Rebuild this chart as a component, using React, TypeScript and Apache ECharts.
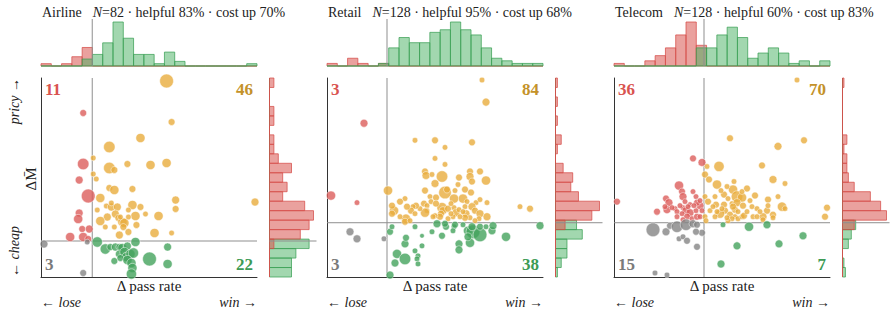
import { useEffect, useRef } from "react";
import * as echarts from "echarts";

// Each task: [Δ pass rate (pp), ΔM̄ (cost change), n runs]
type Pt = [number, number, number];

const airlinePoints: Pt[] = [
  [-0.9, 12.8, 9], [-0.9, 7.7, 25], [-1.3, 6.1, 12], [-0.4, 4.5, 36], [-1.3, 2.8, 12], [-1.4, 2.2, 16],
  [-1.0, 1.2, 9], [-0.3, 1.2, 12], [-2.2, 0.4, 16], [-0.9, 0.4, 16], [-0.4, 0.2, 9],
  [-4.8, -0.3, 12], [-0.5, -0.1, 6], [-0.9, -3.2, 9],
  [0.5, -0.1, 20], [1.3, -0.8, 20], [1.8, -0.6, 9], [2.3, -0.6, 12], [2.7, -0.6, 9], [3.0, -0.7, 16],
  [3.5, -0.5, 12], [4.3, -0.1, 16], [2.7, -1.3, 12], [3.2, -1.1, 16], [3.4, -1.6, 16], [3.8, -1.3, 16],
  [4.1, -1.2, 20], [2.2, -2.0, 9], [2.8, -1.7, 9], [3.5, -1.9, 16], [3.9, -2.2, 16], [4.0, -2.7, 16],
  [3.9, -3.3, 20], [5.7, -1.8, 36], [7.5, -0.6, 12], [7.5, -2.3, 16],
  [7.4, 16.0, 36], [7.9, 11.9, 9], [4.8, 10.3, 16], [1.7, 9.4, 25], [7.4, 7.8, 16], [5.8, 7.6, 16],
  [3.5, 7.7, 9], [0.1, 8.3, 6], [1.7, 7.3, 25], [2.2, 7.1, 9], [0.1, 6.7, 6], [0.4, 6.2, 6],
  [1.7, 5.3, 9], [2.2, 5.1, 16], [4.0, 5.2, 9], [0.8, 4.3, 16], [8.3, 4.1, 12], [16.2, 3.9, 12],
  [1.4, 3.5, 6], [1.9, 3.4, 12], [2.5, 3.4, 12], [4.0, 3.6, 16], [4.8, 3.4, 9], [3.6, 3.1, 6],
  [1.5, 2.4, 12], [2.3, 2.7, 12], [2.6, 2.3, 9], [4.3, 2.5, 16], [6.6, 2.5, 16], [5.3, 2.7, 6],
  [8.3, 3.2, 9], [0.8, 2.0, 16], [3.0, 1.9, 16], [3.2, 1.8, 16], [4.4, 1.6, 9], [1.3, 1.4, 6],
  [2.2, 1.4, 6], [3.1, 1.4, 9], [3.6, 0.9, 9], [2.7, 0.6, 12], [6.2, 0.8, 16], [7.9, 0.8, 6],
  [1.9, 3.8, 6], [0.5, 3.1, 6], [2.8, 2.4, 6], [3.6, 2.4, 6],
];

const retailPoints: Pt[] = [
  [-2.3, 9.9, 12], [-5.6, 2.7, 16], [-3.0, 2.0, 6],
  [-3.7, -0.9, 12], [-3.0, -1.6, 12], [-0.3, -1.6, 6],
  [0.3, -5.2, 12], [0.8, -4.0, 12], [1.0, -3.1, 16], [1.8, -3.6, 25], [1.8, -2.1, 12], [1.9, -1.5, 9],
  [2.8, -2.8, 6], [3.1, -3.3, 6], [3.0, -3.6, 6], [3.1, -4.1, 6], [3.5, -2.3, 6], [3.5, -1.3, 4],
  [2.8, -0.4, 6], [0.3, -0.9, 9], [0.5, -0.4, 6], [4.5, -0.9, 6], [5.0, -0.1, 12], [5.5, -1.3, 9],
  [5.9, -0.4, 9], [6.7, -0.4, 6], [6.6, -0.8, 6], [7.2, -2.1, 12], [7.2, -2.7, 12], [8.3, -2.0, 16],
  [8.1, -0.8, 16], [8.6, -0.9, 36], [9.3, -1.2, 36], [8.5, -0.4, 12], [9.3, -0.4, 9], [10.5, -0.8, 12],
  [10.6, -0.3, 12], [11.9, -1.4, 16], [15.3, -0.3, 12], [6.8, -0.2, 9], [5.8, -0.1, 9], [7.6, -0.2, 6],
  [9.9, -0.4, 6], [8.1, -1.4, 12],
  [9.5, 14.2, 6], [9.9, 12.0, 12], [2.8, 8.2, 6], [4.8, 8.2, 9], [8.5, 8.0, 9], [5.8, 7.5, 6],
  [4.8, 6.4, 6], [5.8, 5.8, 6], [0.1, 3.2, 16],
  [3.8, 5.1, 9], [3.9, 4.7, 12], [4.5, 4.8, 6], [5.5, 4.6, 25], [4.8, 3.9, 12], [7.2, 4.5, 9],
  [8.3, 5.1, 9], [8.3, 4.6, 12], [9.3, 5.1, 9], [9.9, 4.2, 16], [8.5, 4.1, 9], [7.1, 3.8, 6],
  [7.8, 3.3, 9], [5.8, 3.0, 30], [6.0, 3.3, 9], [3.8, 3.2, 9], [4.3, 2.6, 6], [4.9, 2.5, 9],
  [4.4, 2.1, 6], [6.8, 3.2, 6], [6.7, 2.4, 16], [7.6, 2.4, 16], [8.4, 3.0, 9], [8.0, 2.1, 6],
  [8.9, 2.0, 6], [9.3, 2.3, 6], [10.0, 2.0, 6], [3.7, 1.9, 9], [4.0, 1.7, 6], [4.0, 1.2, 6],
  [3.8, 1.0, 16], [5.5, 1.5, 20], [5.6, 1.2, 12], [6.1, 1.4, 9], [5.4, 0.9, 9], [6.7, 1.5, 6],
  [6.9, 1.0, 12], [7.2, 1.3, 6], [7.8, 1.6, 6], [7.9, 0.9, 12], [8.5, 1.6, 12], [8.8, 1.2, 9],
  [9.3, 0.9, 12], [10.0, 0.6, 12], [9.2, 0.4, 6], [8.3, 0.5, 6], [7.8, 0.5, 9], [7.3, 0.6, 6],
  [6.6, 0.6, 6], [6.1, 0.4, 6], [5.3, 0.6, 9], [4.8, 0.7, 6], [4.6, 0.6, 6], [3.3, 1.4, 6],
  [2.9, 1.7, 9], [2.6, 1.6, 6], [2.4, 1.2, 9], [2.0, 1.6, 9], [1.8, 2.4, 6], [1.3, 2.1, 9],
  [0.7, 1.2, 16], [0.5, 1.7, 9], [0.5, 0.9, 9], [1.9, 0.4, 16], [1.8, 0.1, 9], [1.3, 0.6, 6],
  [13.3, 1.6, 6], [14.3, 1.4, 9], [2.3, 0.2, 6], [8.8, 0.2, 6], [6.4, 0.9, 6], [2.8, 0.9, 6],
  [4.9, 1.9, 9], [6.4, 1.9, 6], [7.6, 1.1, 6],
];

const telecomPoints: Pt[] = [
  [-8.7, 2.1, 9], [-4.7, 1.1, 9], [-3.8, 2.4, 9], [-3.5, 2.0, 12], [-3.7, 1.3, 12], [-2.5, 3.7, 16],
  [-2.2, 3.1, 9], [-2.1, 2.6, 12], [-1.9, 2.1, 6], [-2.1, 1.5, 6], [-1.8, 1.2, 12], [-1.4, 1.0, 12],
  [-1.1, 6.4, 9], [-1.1, 3.1, 6], [-0.8, 2.6, 6], [-0.4, 1.7, 12], [-0.2, 6.0, 12], [-1.4, 1.8, 6],
  [-0.7, 2.0, 9], [-0.4, 2.2, 6], [-2.4, 1.7, 6], [-2.9, 1.4, 6], [-1.7, 0.6, 9], [-1.2, 0.4, 6],
  [-0.7, 0.6, 9], [-0.4, 0.6, 6], [-0.8, 1.2, 6], [-1.6, 1.6, 6], [-2.2, 0.9, 6], [-2.7, 1.1, 6],
  [-3.2, 1.5, 6], [-3.9, 1.6, 6], [-2.1, 0.3, 6], [-2.7, 0.6, 6], [-1.0, 1.7, 6], [-0.2, 1.2, 6],
  [-5.1, -0.7, 36], [-3.8, -0.9, 12], [-3.4, -0.3, 9], [-2.7, -0.4, 25], [-1.8, -0.2, 25], [-1.1, -0.1, 12],
  [-0.7, -0.2, 9], [-0.2, -1.0, 9], [-0.8, -0.9, 9], [-2.5, -1.6, 6], [-2.1, -1.4, 6], [-1.7, -1.8, 9],
  [-0.7, -2.4, 9], [-4.9, -5.0, 6], [-3.7, -5.2, 6],
  [1.9, -0.2, 6], [4.5, -0.4, 16], [6.3, -0.2, 12], [3.3, -2.3, 12], [7.5, -2.1, 12], [9.9, -1.3, 12],
  [1.7, -4.1, 12],
  [9.3, 14.2, 6], [2.6, 8.4, 9], [7.4, 7.6, 12], [10.0, 8.2, 9], [5.8, 5.7, 9], [1.5, 5.6, 20],
  [0.3, 5.6, 6], [0.1, 4.8, 9], [0.5, 4.3, 9], [1.3, 3.8, 16], [3.0, 4.1, 6], [6.9, 4.3, 12],
  [8.1, 3.9, 6], [2.9, 3.3, 16], [2.0, 2.8, 9], [3.3, 2.6, 25], [3.8, 2.5, 16], [4.3, 3.4, 9],
  [5.1, 2.7, 9], [6.4, 2.3, 9], [7.4, 2.6, 6], [7.8, 1.6, 16], [12.3, 1.5, 9], [12.1, 0.6, 9],
  [6.3, 1.2, 9], [5.9, 0.6, 12], [6.9, 0.8, 9], [5.9, 0.3, 6], [0.1, 2.6, 6], [0.4, 2.1, 9],
  [1.2, 1.8, 9], [2.0, 1.8, 9], [2.4, 2.4, 6], [2.1, 1.2, 9], [1.6, 0.9, 16], [2.6, 0.8, 9],
  [3.1, 1.3, 9], [3.1, 0.6, 6], [3.4, 0.4, 6], [3.8, 0.6, 6], [4.0, 0.7, 9], [2.8, 0.4, 6],
  [1.1, 0.6, 6], [0.6, 1.2, 6], [0.1, 0.6, 6], [0.2, 0.2, 6], [2.8, 1.9, 6], [3.3, 2.0, 12],
  [3.9, 1.7, 9], [4.8, 1.6, 6], [5.3, 1.4, 6], [4.3, 1.1, 6], [4.9, 0.6, 6], [5.6, 1.1, 6],
  [6.9, 0.5, 6], [2.4, 0.2, 6], [1.8, 1.4, 6], [1.3, 1.1, 6], [0.9, 1.6, 6], [3.8, 3.1, 6],
  [4.6, 2.2, 6], [1.7, 3.2, 6], [1.1, 2.6, 6], [2.3, 3.6, 6], [5.3, 0.6, 6], [3.4, 1.1, 6],
  [6.4, 1.7, 6], [2.9, 1.6, 9], [2.3, 0.5, 6], [8.1, 1.4, 6],
];

// Marginal histograms, 21 bins over each axis range.
// Top: Δ pass rate, left to right (lose / win). Side: ΔM̄, bottom to top (cheaper / pricier).
const airlineTopLose = [1, 0, 1, 4, 8, 0, 0, 0, 0, 0, 0, 0, 0, 0, 0, 0, 0, 0, 0, 0, 0];
const airlineTopWin = [0, 0, 0, 0, 3, 5, 10, 19, 12, 5, 5, 1, 6, 2, 0, 0, 0, 0, 0, 0, 1];
const airlineSideUp = [0, 0, 0, 1, 7, 9, 10, 8, 3, 4, 3, 5, 2, 1, 1, 0, 1, 1, 0, 0, 1];
const airlineSideDown = [5, 5, 6, 9, 0, 0, 0, 0, 0, 0, 0, 0, 0, 0, 0, 0, 0, 0, 0, 0, 0];

const retailTopLose = [1, 0, 3, 1, 0, 1, 0, 0, 0, 0, 0, 0, 0, 0, 0, 0, 0, 0, 0, 0, 0];
const retailTopWin = [0, 0, 0, 0, 0, 1, 7, 11, 9, 9, 13, 14, 17, 14, 12, 7, 3, 2, 1, 1, 1];
const retailSideUp = [0, 0, 0, 0, 0, 5, 19, 23, 12, 8, 9, 4, 0, 1, 3, 0, 1, 0, 1, 0, 1];
const retailSideDown = [1, 3, 6, 6, 14, 11, 0, 0, 0, 0, 0, 0, 0, 0, 0, 0, 0, 0, 0, 0, 0];

const telecomTopLose = [1, 0, 0, 2, 4, 7, 12, 17, 8, 0, 0, 0, 0, 0, 0, 0, 0, 0, 0, 0, 0];
const telecomTopWin = [0, 0, 0, 0, 0, 0, 0, 0, 7, 7, 12, 15, 11, 3, 5, 7, 5, 1, 2, 0, 2];
const telecomSideUp = [0, 0, 0, 0, 0, 8, 30, 26, 19, 8, 4, 3, 3, 1, 3, 0, 0, 0, 0, 0, 1];
const telecomSideDown = [2, 1, 0, 4, 6, 9, 0, 0, 0, 0, 0, 0, 0, 0, 0, 0, 0, 0, 0, 0, 0];

const domains = ["Airline", "Retail", "Telecom"];
const xRanges: [number, number][] = [[-5.1, 16.4], [-6.0, 15.6], [-9.0, 12.6]];
const yRanges: [number, number][] = [[-3.6, 16.3], [-5.4, 14.4], [-5.4, 14.4]];

const PANELS = [
  { name: domains[0], pts: airlinePoints, xr: xRanges[0], yr: yRanges[0], topLose: airlineTopLose, topWin: airlineTopWin, sideUp: airlineSideUp, sideDown: airlineSideDown },
  { name: domains[1], pts: retailPoints, xr: xRanges[1], yr: yRanges[1], topLose: retailTopLose, topWin: retailTopWin, sideUp: retailSideUp, sideDown: retailSideDown },
  { name: domains[2], pts: telecomPoints, xr: xRanges[2], yr: yRanges[2], topLose: telecomTopLose, topWin: telecomTopWin, sideUp: telecomSideUp, sideDown: telecomSideDown },
];

// Layout (px)
const LEFTS = [41, 327, 614];
const PLOT_TOP = 78;
const PLOT_W = 216;
const PLOT_H = 199;
const TOP_HIST_TOP = 19;
const TOP_HIST_H = 47;
const SIDE_GAP = 12.5;
const SIDE_W = 47;
const BAR_FRAC = 44 / 47;
const BUBBLE_SCALE = 2.3;

const FONT = "'Liberation Serif', 'DejaVu Serif', 'Times New Roman', serif";
const ZERO_LINE = "#8f8f8f";
const SPINE = "#333";

const QUAD = {
  losePricy: { fill: "#dc5e5b", label: "#d9534f" },
  winPricy: { fill: "#e9ad3d", label: "#c4922a" },
  loseCheap: { fill: "#858585", label: "#7a7a7a" },
  winCheap: { fill: "#44a35d", label: "#3d9b55" },
};
const HIST_RED = { fill: "rgba(217,83,79,0.55)", stroke: "rgba(214,78,74,0.75)" };
const HIST_GREEN = { fill: "rgba(70,175,95,0.5)", stroke: "rgba(60,160,85,0.75)" };

function histSeries(axis: number, counts: number[], lo: number, hi: number, side: boolean, col: { fill: string; stroke: string }) {
  const w = (hi - lo) / counts.length;
  return {
    type: "custom",
    xAxisIndex: axis,
    yAxisIndex: axis,
    silent: true,
    z: 2,
    data: counts.map((c, k) => [lo + k * w, lo + (k + 1) * w, c]),
    renderItem: (_p: any, api: any) => {
      const a = api.value(0);
      const b = api.value(1);
      const c = api.value(2);
      const p0 = side ? api.coord([0, a]) : api.coord([a, 0]);
      const p1 = side ? api.coord([c, b]) : api.coord([b, c]);
      return {
        type: "rect",
        shape: {
          x: Math.min(p0[0], p1[0]),
          y: Math.min(p0[1], p1[1]),
          width: Math.abs(p1[0] - p0[0]),
          height: Math.abs(p1[1] - p0[1]),
        },
        style: { fill: col.fill, stroke: col.stroke, lineWidth: 1 },
      };
    },
  };
}

function zeroLine(axis: number, data: number[][]) {
  return {
    type: "line",
    xAxisIndex: axis,
    yAxisIndex: axis,
    data,
    symbol: "none",
    silent: true,
    z: 3,
    lineStyle: { color: ZERO_LINE, width: 1 },
  };
}

function text(x: number, y: number, str: string, opts: any = {}) {
  const { align = "left", vAlign = "middle", rotation = 0, ...style } = opts;
  return {
    type: "text",
    x,
    y,
    rotation,
    silent: true,
    style: {
      text: str,
      fontFamily: FONT,
      fontSize: 14,
      fill: "#222",
      align,
      textAlign: align,
      verticalAlign: vAlign,
      textVerticalAlign: vAlign,
      ...style,
    },
  };
}

function buildOption() {
  const grid: any[] = [];
  const xAxis: any[] = [];
  const yAxis: any[] = [];
  const series: any[] = [];
  const graphic: any[] = [];
  const hidden = { show: false };

  PANELS.forEach((p, i) => {
    const L = LEFTS[i];
    const g = grid.length;
    const [x0, x1] = p.xr;
    const [y0, y1] = p.yr;

    // scatter, top histogram, side histogram
    grid.push({ left: L, top: PLOT_TOP, width: PLOT_W, height: PLOT_H });
    grid.push({ left: L, top: TOP_HIST_TOP, width: PLOT_W, height: TOP_HIST_H });
    grid.push({ left: L + PLOT_W + SIDE_GAP, top: PLOT_TOP, width: SIDE_W, height: PLOT_H });

    const spine = { show: true, onZero: false, lineStyle: { color: SPINE, width: 1 } };
    xAxis.push({ gridIndex: g, type: "value", min: x0, max: x1, axisLine: spine, axisTick: hidden, axisLabel: hidden, splitLine: hidden });
    yAxis.push({ gridIndex: g, type: "value", min: y0, max: y1, axisLine: spine, axisTick: hidden, axisLabel: hidden, splitLine: hidden });

    const topMax = Math.max(...p.topLose, ...p.topWin) / BAR_FRAC;
    xAxis.push({ gridIndex: g + 1, type: "value", min: x0, max: x1, show: false });
    yAxis.push({ gridIndex: g + 1, type: "value", min: 0, max: topMax, show: false });

    const sideMax = Math.max(...p.sideUp, ...p.sideDown) / BAR_FRAC;
    xAxis.push({ gridIndex: g + 2, type: "value", min: 0, max: sideMax, show: false });
    yAxis.push({ gridIndex: g + 2, type: "value", min: y0, max: y1, show: false });

    // quadrants
    const groups = {
      losePricy: p.pts.filter((d) => d[0] < 0 && d[1] > 0),
      winPricy: p.pts.filter((d) => d[0] > 0 && d[1] > 0),
      loseCheap: p.pts.filter((d) => d[0] < 0 && d[1] < 0),
      winCheap: p.pts.filter((d) => d[0] > 0 && d[1] < 0),
    };

    series.push(zeroLine(g, [[0, y0], [0, y1]]));
    series.push(zeroLine(g, [[x0, 0], [x1, 0]]));
    (Object.keys(groups) as (keyof typeof groups)[]).forEach((k) => {
      series.push({
        type: "scatter",
        xAxisIndex: g,
        yAxisIndex: g,
        data: groups[k],
        symbolSize: (v: number[]) => BUBBLE_SCALE * Math.sqrt(v[2]),
        silent: true,
        z: 4,
        itemStyle: { color: QUAD[k].fill, opacity: 0.8, borderColor: "#fff", borderWidth: 0.6 },
      });
    });

    series.push(histSeries(g + 1, p.topLose, x0, x1, false, HIST_RED));
    series.push(histSeries(g + 1, p.topWin, x0, x1, false, HIST_GREEN));
    series.push(zeroLine(g + 1, [[0, 0], [0, topMax]]));

    series.push(histSeries(g + 2, p.sideDown, y0, y1, true, HIST_GREEN));
    series.push(histSeries(g + 2, p.sideUp, y0, y1, true, HIST_RED));
    series.push(zeroLine(g + 2, [[0, 0], [sideMax, 0]]));

    // title
    const n = p.pts.length;
    const helpful = Math.round((100 * (groups.winPricy.length + groups.winCheap.length)) / n);
    const costUp = Math.round((100 * (groups.losePricy.length + groups.winPricy.length)) / n);
    graphic.push({
      type: "text",
      x: L + 1,
      y: 12,
      silent: true,
      style: {
        text: `{nm|${p.name}}{gap| }{it|N}{tx|=${n} · helpful ${helpful}% · cost up ${costUp}%}`,
        fontFamily: FONT,
        fontSize: 14,
        fill: "#222",
        verticalAlign: "middle",
        textVerticalAlign: "middle",
        rich: {
          nm: { fontFamily: FONT, fontSize: 14, fill: "#222" },
          gap: { width: 11, fontSize: 14 },
          it: { fontFamily: FONT, fontSize: 14, fontStyle: "italic", fill: "#222" },
          tx: { fontFamily: FONT, fontSize: 14, fill: "#222" },
        },
      },
    });

    // axis captions
    graphic.push(text(L + PLOT_W / 2, 286, "Δ pass rate", { align: "center", fontSize: 15 }));
    graphic.push(text(L, 302, "← lose", { fontStyle: "italic" }));
    graphic.push(text(L + PLOT_W, 302, "win →", { align: "right", fontStyle: "italic" }));

    // quadrant counts
    const bold = { fontSize: 17, fontWeight: "bold" };
    graphic.push(text(L + 4, 89, String(groups.losePricy.length), { ...bold, fill: QUAD.losePricy.label }));
    graphic.push(text(L + PLOT_W - 4, 89, String(groups.winPricy.length), { ...bold, align: "right", fill: QUAD.winPricy.label }));
    graphic.push(text(L + 4, 264, String(groups.loseCheap.length), { ...bold, fill: QUAD.loseCheap.label }));
    graphic.push(text(L + PLOT_W - 4, 264, String(groups.winCheap.length), { ...bold, align: "right", fill: QUAD.winCheap.label }));
  });

  // y-axis captions (first panel only)
  const rot = Math.PI / 2;
  graphic.push(text(14, PLOT_TOP, "pricy →", { align: "right", rotation: rot, fontStyle: "italic" }));
  graphic.push(text(14, PLOT_TOP + PLOT_H, "← cheap", { align: "left", rotation: rot, fontStyle: "italic" }));
  graphic.push(text(31, 179, "ΔM\u0304", { align: "center", rotation: rot, fontSize: 15 }));

  return {
    animation: false,
    backgroundColor: "#fff",
    textStyle: { fontFamily: FONT },
    grid,
    xAxis,
    yAxis,
    series,
    graphic: { elements: graphic },
  };
}

export default function App() {
  const ref = useRef<HTMLDivElement>(null);
  useEffect(() => {
    if (!ref.current) return;
    const chart = echarts.init(ref.current, undefined, { renderer: "svg" });
    chart.setOption(buildOption() as any);
    return () => chart.dispose();
  }, []);
  return <div ref={ref} style={{ position: "fixed", left: 0, top: 0, width: 895, height: 314 }} />;
}
